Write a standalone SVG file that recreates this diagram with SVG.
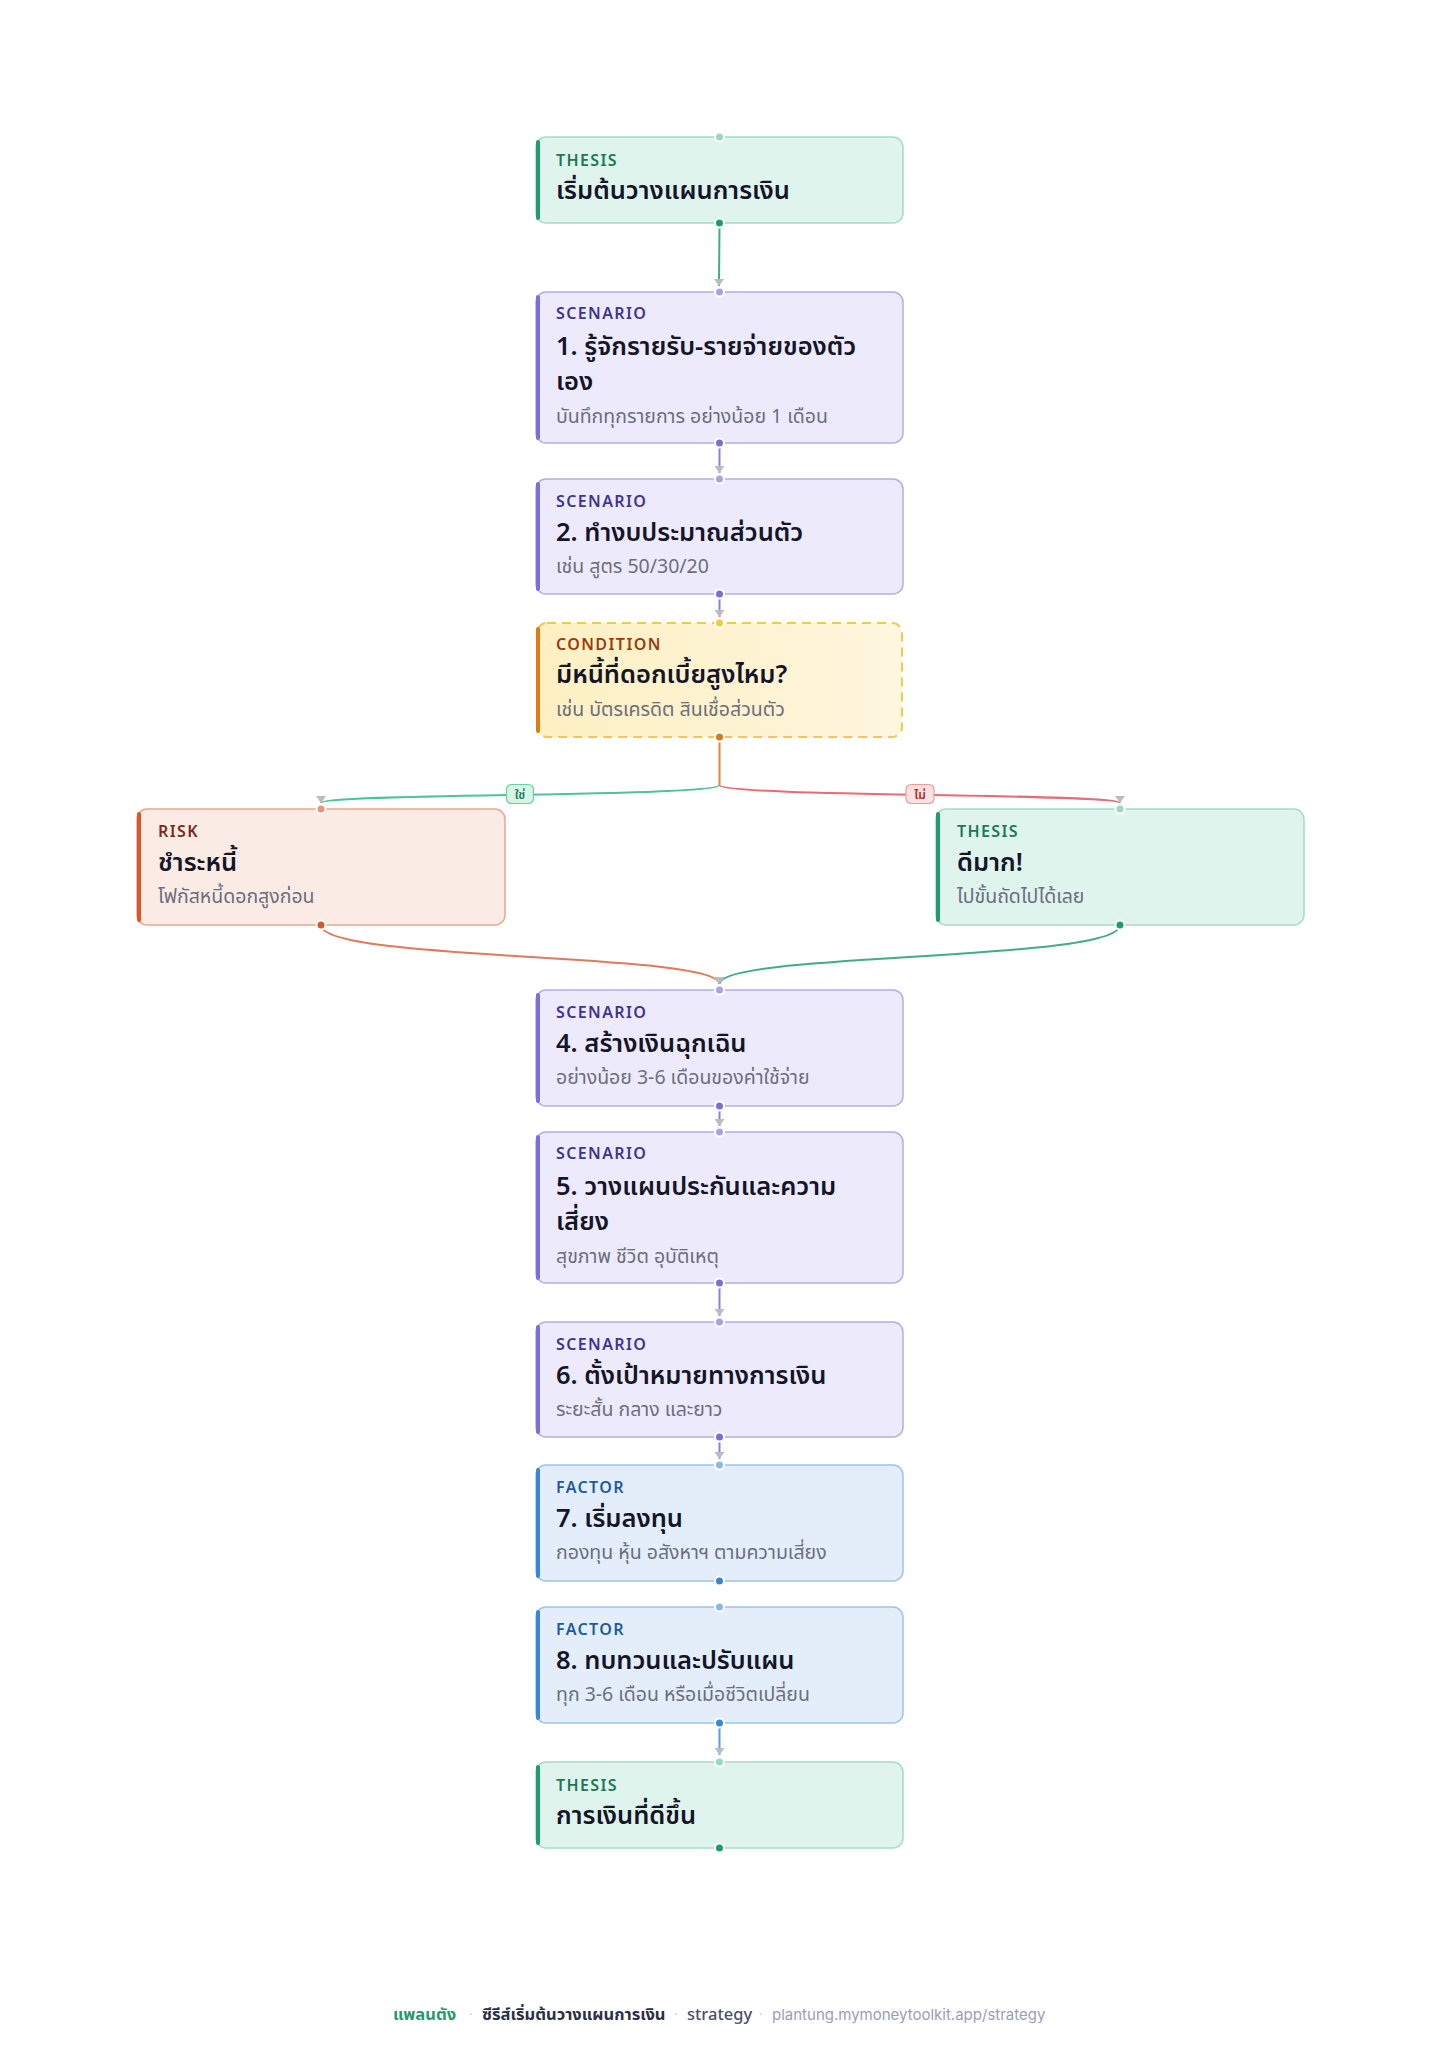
<svg xmlns="http://www.w3.org/2000/svg" width="1441" height="2048" viewBox="0 0 1441 2048">
<style>
text{font-family:"Noto Sans Thai","Noto Sans","Inter","Liberation Sans",sans-serif;}
.lbl{font-size:16px;font-weight:600;letter-spacing:1.4px;}
.ttl{font-size:25.5px;font-weight:600;fill:#15152a;}
.sub{font-size:19.5px;font-weight:400;fill:#6b6e7e;}
.thesis .box{fill:#e0f4ee;stroke:#a6dcc6;}
.thesis .bar{fill:#1f9b6e;}
.thesis .lbl{fill:#1a7a55;}
.thesis .din{fill:#9bd8c0;}
.thesis .dout{fill:#1f9b6e;}
.scen .box{fill:#edebfb;stroke:#b5ade5;}
.scen .bar{fill:#7b6fd6;}
.scen .lbl{fill:#3d3590;}
.scen .din{fill:#aaa3e3;}
.scen .dout{fill:#7b6fd6;}
.cond .box{fill:url(#condg);stroke:#f3c94a;stroke-dasharray:9 6;stroke-width:2;}
.cond .bar{fill:#e07b10;}
.cond .lbl{fill:#9a3b10;}
.cond .din{fill:#f3c94a;}
.cond .dout{fill:#d97a12;}
.risk .box{fill:#fbebe5;stroke:#eba590;}
.risk .bar{fill:#d9582b;}
.risk .lbl{fill:#7a2a15;}
.risk .din{fill:#eb9678;}
.risk .dout{fill:#d9582b;}
.fact .box{fill:#e3eefa;stroke:#9ec3ec;}
.fact .bar{fill:#3a86d8;}
.fact .lbl{fill:#1d5a9e;}
.fact .din{fill:#8ab8ea;}
.fact .dout{fill:#3a86d8;}
.box{stroke-width:1.5;}
.din,.dout{stroke:#ffffff;stroke-width:2;}
.edge{fill:none;stroke-width:2;marker-end:url(#arr);}
.stem{fill:none;stroke-width:2;}
.elbl{font-size:12px;font-weight:600;text-anchor:middle;}
.foot{font-size:16.5px;}
.sep{font-size:13px;fill:#c5c8d0;}
</style>
<defs>
<linearGradient id="condg" x1="0" y1="0" x2="1" y2="0">
<stop offset="0" stop-color="#fdf0c2"/>
<stop offset="1" stop-color="#fef6de"/>
</linearGradient>
<marker id="arr" viewBox="0 0 10 10" refX="10" refY="5" markerWidth="7" markerHeight="10" preserveAspectRatio="none" markerUnits="userSpaceOnUse" orient="auto">
<path d="M0,0 L10,5 L0,10 z" fill="#bcbcbc"/>
</marker>
</defs>
<rect x="0" y="0" width="1441" height="2048" fill="#ffffff"/>

<g id="connectors">
<path class="edge" stroke="#3fae86" d="M719.5,223 L719,286"/>
<path class="edge" stroke="#8a80d9" d="M719.5,443 L719.5,473"/>
<path class="edge" stroke="#8a80d9" d="M719.5,594 L719.5,617"/>
<path class="stem" stroke="#e08a2a" d="M719.5,737 L719.5,785"/>
<path class="edge" stroke="#4cc497" d="M719.5,785 C719.5,797 321,793 321,803"/>
<path class="edge" stroke="#e86a72" d="M719.5,785 C719.5,797 1120,793 1120,803"/>
<path class="edge" stroke="#e07a5a" d="M321,925 C321,962 719.5,952 719.5,984"/>
<path class="edge" stroke="#3fae86" d="M1120,925 C1120,962 719.5,952 719.5,984"/>
<path class="edge" stroke="#8a80d9" d="M719.5,1106 L719.5,1126"/>
<path class="edge" stroke="#8a80d9" d="M719.5,1283 L719.5,1316"/>
<path class="edge" stroke="#8a80d9" d="M719.5,1437 L719.5,1459"/>
<path class="edge" stroke="#5a9be0" d="M719.5,1723 L719.5,1755"/>
<g id="label-yes">
<rect x="506.5" y="784.5" width="27" height="19" rx="5" fill="#d5f5e6" stroke="#6cd0a0" stroke-width="1.2"/>
<text class="elbl" x="520" y="798.5" fill="#1a7a55">ใช่</text>
</g>
<g id="label-no">
<rect x="906" y="784.5" width="28" height="19" rx="5" fill="#fde0e0" stroke="#ef9a9a" stroke-width="1.2"/>
<text class="elbl" x="920" y="798.5" fill="#b02a2a">ไม่</text>
</g>
</g>

<g id="n-start" class="thesis">
<rect class="box" x="536" y="137" width="367" height="86" rx="10"/>
<rect class="bar" x="536" y="140" width="4" height="80" rx="2"/>
<text class="lbl" x="556" y="166">THESIS</text>
<text class="ttl" x="556" y="199">เริ่มต้นวางแผนการเงิน</text>
<circle class="din" cx="719.5" cy="137" r="4.5"/>
<circle class="dout" cx="719.5" cy="223" r="4.5"/>
</g>

<g id="n-1" class="scen">
<rect class="box" x="536" y="292" width="367" height="151" rx="10"/>
<rect class="bar" x="536" y="295" width="4" height="145" rx="2"/>
<text class="lbl" x="556" y="319">SCENARIO</text>
<text class="ttl" x="556" y="355">1. รู้จักรายรับ-รายจ่ายของตัว</text>
<text class="ttl" x="556" y="390">เอง</text>
<text class="sub" x="556" y="423">บันทึกทุกรายการ อย่างน้อย 1 เดือน</text>
<circle class="din" cx="719.5" cy="292" r="4.5"/>
<circle class="dout" cx="719.5" cy="443" r="4.5"/>
</g>

<g id="n-2" class="scen">
<rect class="box" x="536" y="479" width="367" height="115" rx="10"/>
<rect class="bar" x="536" y="482" width="4" height="109" rx="2"/>
<text class="lbl" x="556" y="507">SCENARIO</text>
<text class="ttl" x="556" y="541">2. ทำงบประมาณส่วนตัว</text>
<text class="sub" x="556" y="573">เช่น สูตร 50/30/20</text>
<circle class="din" cx="719.5" cy="479" r="4.5"/>
<circle class="dout" cx="719.5" cy="594" r="4.5"/>
</g>

<g id="n-cond" class="cond">
<rect class="box" x="537" y="623" width="365" height="114" rx="10"/>
<rect class="bar" x="536" y="627" width="4" height="106" rx="2"/>
<text class="lbl" x="556" y="650">CONDITION</text>
<text class="ttl" x="556" y="683">มีหนี้ที่ดอกเบี้ยสูงไหม?</text>
<text class="sub" x="556" y="716">เช่น บัตรเครดิต สินเชื่อส่วนตัว</text>
<circle class="din" cx="719.5" cy="623" r="4.5"/>
<circle class="dout" cx="719.5" cy="737" r="4.5"/>
</g>

<g id="n-risk" class="risk">
<rect class="box" x="137" y="809" width="368" height="116" rx="10"/>
<rect class="bar" x="137" y="812" width="4" height="110" rx="2"/>
<text class="lbl" x="158" y="837">RISK</text>
<text class="ttl" x="158" y="871">ชำระหนี้</text>
<text class="sub" x="158" y="903">โฟกัสหนี้ดอกสูงก่อน</text>
<circle class="din" cx="321" cy="809" r="4.5"/>
<circle class="dout" cx="321" cy="925" r="4.5"/>
</g>

<g id="n-good" class="thesis">
<rect class="box" x="936" y="809" width="368" height="116" rx="10"/>
<rect class="bar" x="936" y="812" width="4" height="110" rx="2"/>
<text class="lbl" x="957" y="837">THESIS</text>
<text class="ttl" x="957" y="871">ดีมาก!</text>
<text class="sub" x="957" y="903">ไปขั้นถัดไปได้เลย</text>
<circle class="din" cx="1120" cy="809" r="4.5"/>
<circle class="dout" cx="1120" cy="925" r="4.5"/>
</g>

<g id="n-4" class="scen">
<rect class="box" x="536" y="990" width="367" height="116" rx="10"/>
<rect class="bar" x="536" y="993" width="4" height="110" rx="2"/>
<text class="lbl" x="556" y="1018">SCENARIO</text>
<text class="ttl" x="556" y="1052">4. สร้างเงินฉุกเฉิน</text>
<text class="sub" x="556" y="1084">อย่างน้อย 3-6 เดือนของค่าใช้จ่าย</text>
<circle class="din" cx="719.5" cy="990" r="4.5"/>
<circle class="dout" cx="719.5" cy="1106" r="4.5"/>
</g>

<g id="n-5" class="scen">
<rect class="box" x="536" y="1132" width="367" height="151" rx="10"/>
<rect class="bar" x="536" y="1135" width="4" height="145" rx="2"/>
<text class="lbl" x="556" y="1159">SCENARIO</text>
<text class="ttl" x="556" y="1195">5. วางแผนประกันและความ</text>
<text class="ttl" x="556" y="1230">เสี่ยง</text>
<text class="sub" x="556" y="1263">สุขภาพ ชีวิต อุบัติเหตุ</text>
<circle class="din" cx="719.5" cy="1132" r="4.5"/>
<circle class="dout" cx="719.5" cy="1283" r="4.5"/>
</g>

<g id="n-6" class="scen">
<rect class="box" x="536" y="1322" width="367" height="115" rx="10"/>
<rect class="bar" x="536" y="1325" width="4" height="109" rx="2"/>
<text class="lbl" x="556" y="1350">SCENARIO</text>
<text class="ttl" x="556" y="1384">6. ตั้งเป้าหมายทางการเงิน</text>
<text class="sub" x="556" y="1416">ระยะสั้น กลาง และยาว</text>
<circle class="din" cx="719.5" cy="1322" r="4.5"/>
<circle class="dout" cx="719.5" cy="1437" r="4.5"/>
</g>

<g id="n-7" class="fact">
<rect class="box" x="536" y="1465" width="367" height="116" rx="10"/>
<rect class="bar" x="536" y="1468" width="4" height="110" rx="2"/>
<text class="lbl" x="556" y="1493">FACTOR</text>
<text class="ttl" x="556" y="1527">7. เริ่มลงทุน</text>
<text class="sub" x="556" y="1559">กองทุน หุ้น อสังหาฯ ตามความเสี่ยง</text>
<circle class="din" cx="719.5" cy="1465" r="4.5"/>
<circle class="dout" cx="719.5" cy="1581" r="4.5"/>
</g>

<g id="n-8" class="fact">
<rect class="box" x="536" y="1607" width="367" height="116" rx="10"/>
<rect class="bar" x="536" y="1610" width="4" height="110" rx="2"/>
<text class="lbl" x="556" y="1635">FACTOR</text>
<text class="ttl" x="556" y="1669">8. ทบทวนและปรับแผน</text>
<text class="sub" x="556" y="1701">ทุก 3-6 เดือน หรือเมื่อชีวิตเปลี่ยน</text>
<circle class="din" cx="719.5" cy="1607" r="4.5"/>
<circle class="dout" cx="719.5" cy="1723" r="4.5"/>
</g>

<g id="n-end" class="thesis">
<rect class="box" x="536" y="1762" width="367" height="86" rx="10"/>
<rect class="bar" x="536" y="1765" width="4" height="80" rx="2"/>
<text class="lbl" x="556" y="1791">THESIS</text>
<text class="ttl" x="556" y="1824">การเงินที่ดีขึ้น</text>
<circle class="din" cx="719.5" cy="1762" r="4.5"/>
<circle class="dout" cx="719.5" cy="1848" r="4.5"/>
</g>

<g id="footer">
<text class="foot" x="393" y="2020" font-weight="700" fill="#1f9b6e">แพลนตัง</text>
<text class="sep" x="469" y="2019">·</text>
<text class="foot" x="482" y="2020" font-weight="700" fill="#2a2f45">ซีรีส์เริ่มต้นวางแผนการเงิน</text>
<text class="sep" x="674" y="2019">·</text>
<text class="foot" x="687" y="2020" font-weight="500" fill="#4a5068">strategy</text>
<text class="sep" x="759" y="2019">·</text>
<text x="772" y="2020" font-size="15" fill="#9aa0b0" style="font-family:'Inter','Noto Sans',sans-serif">plantung.mymoneytoolkit.app/strategy</text>
</g>
</svg>
